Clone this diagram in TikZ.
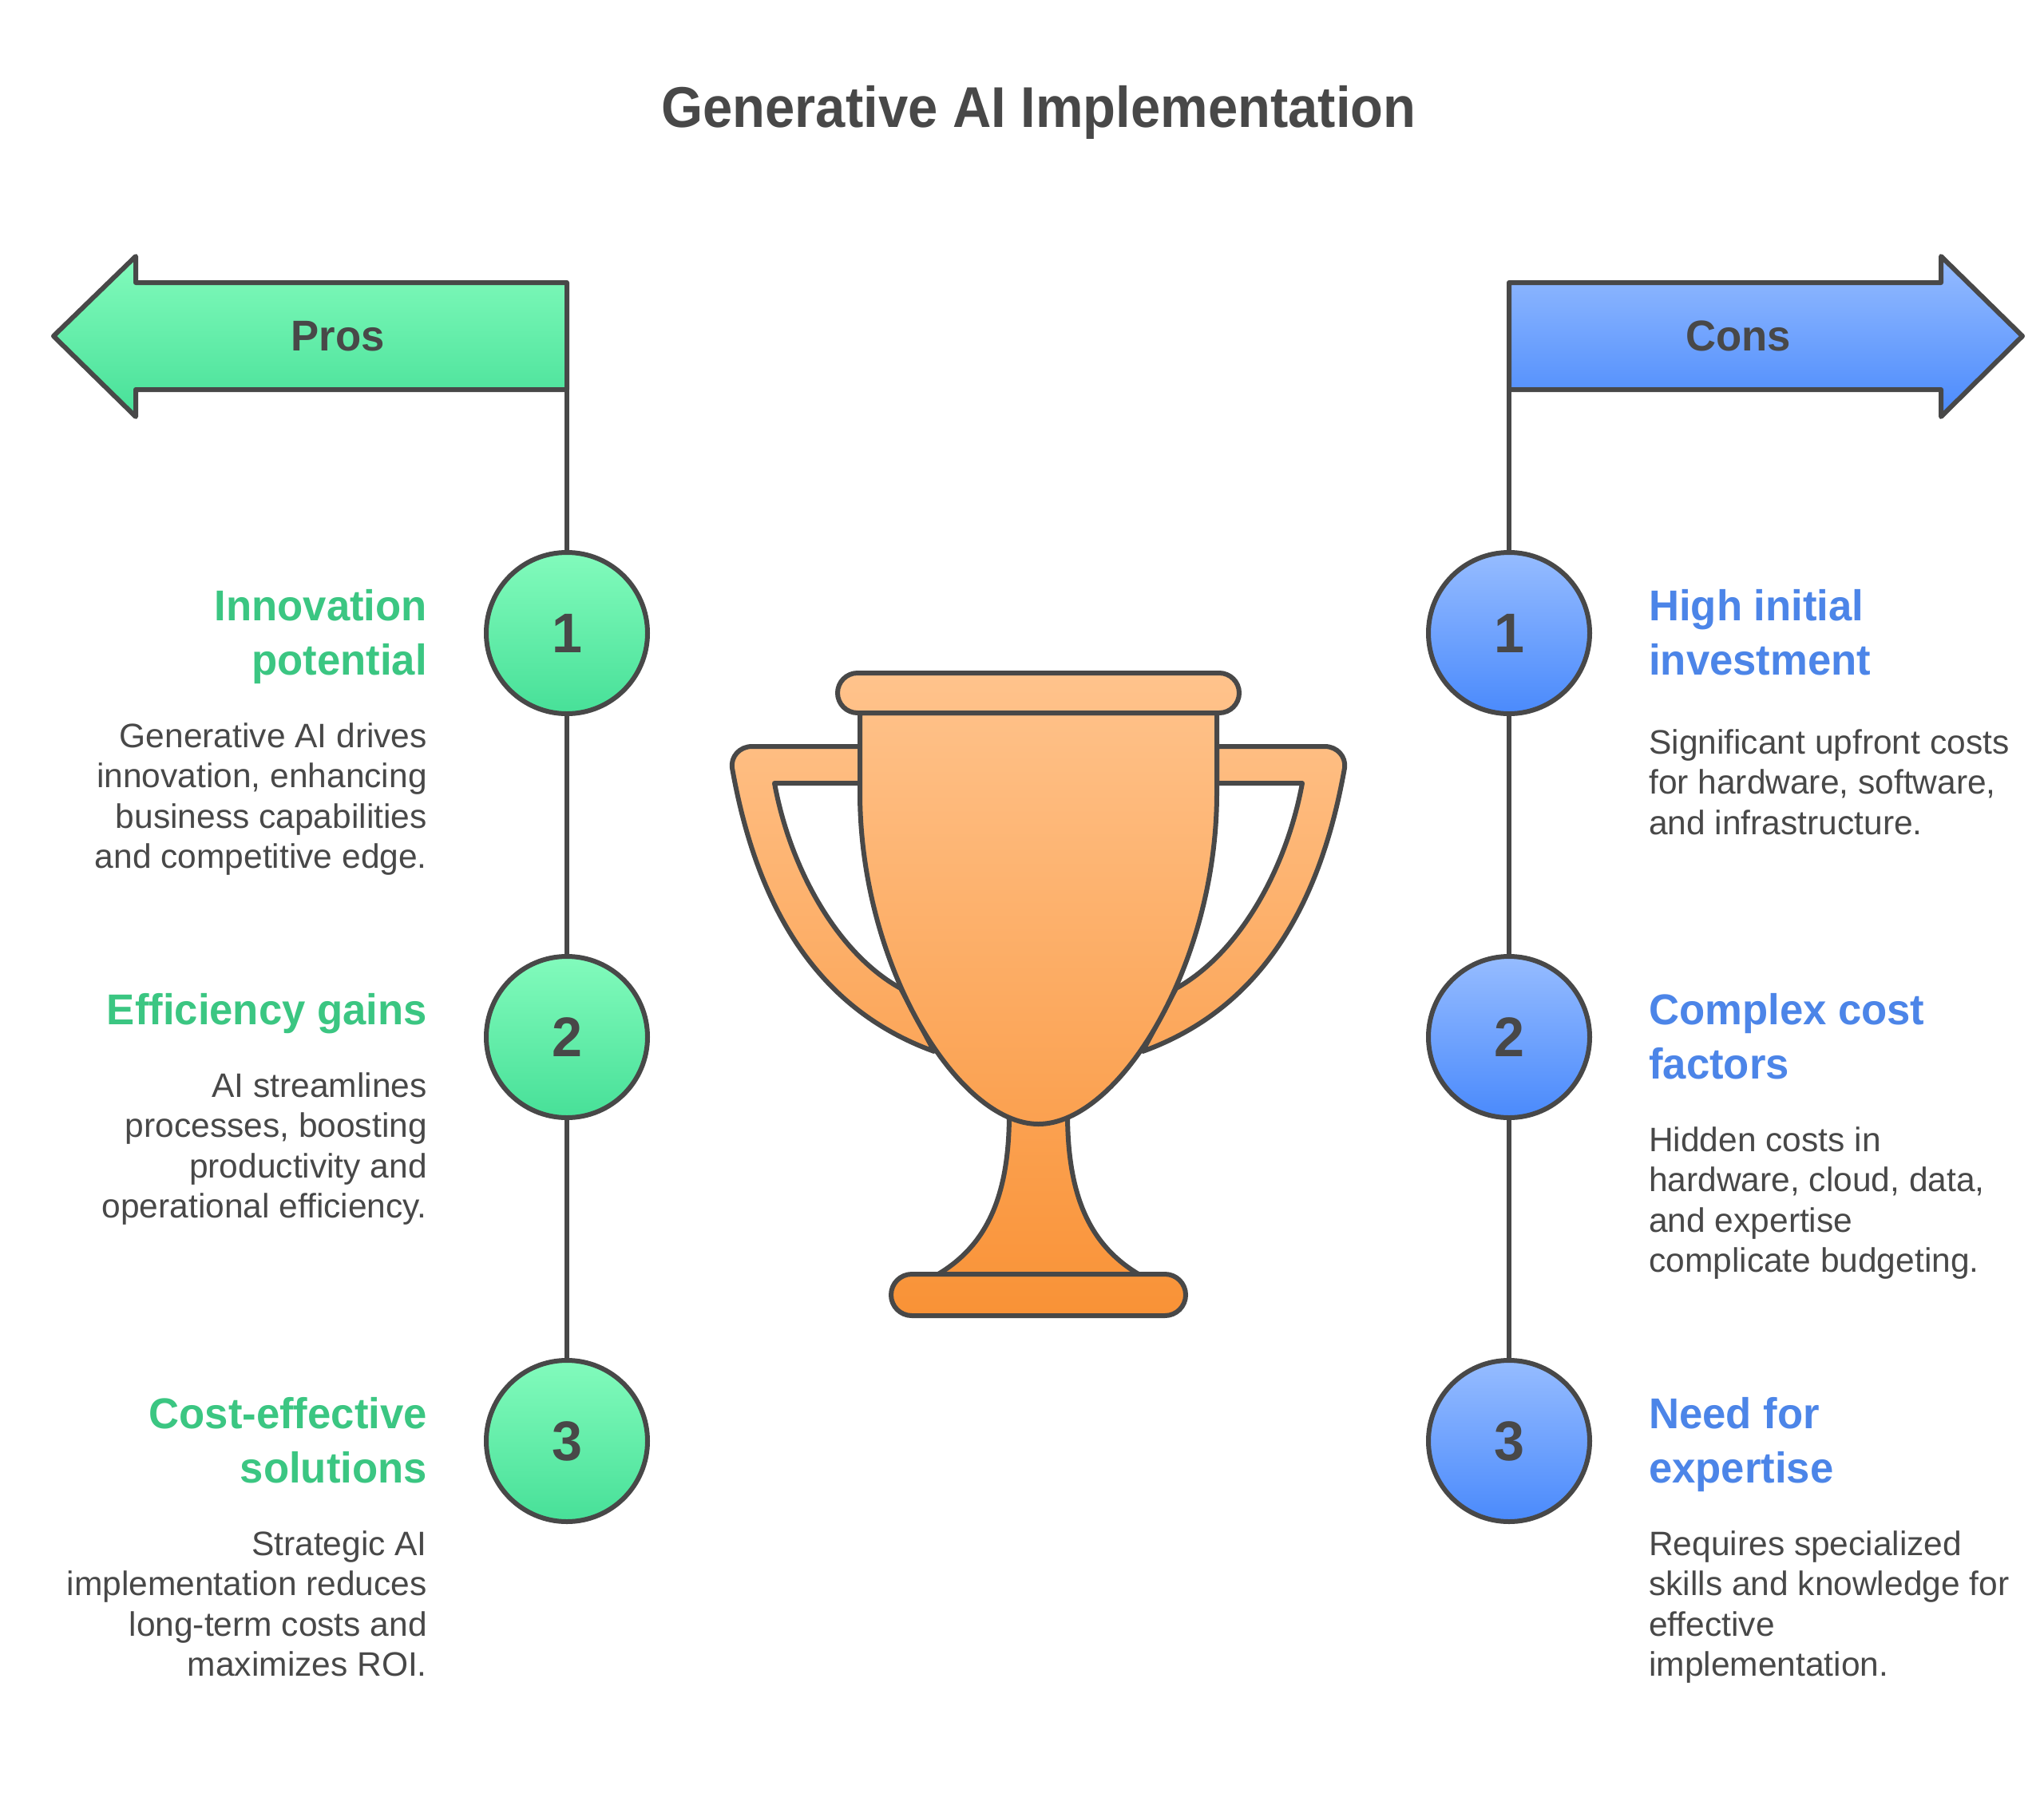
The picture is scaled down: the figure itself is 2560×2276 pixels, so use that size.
\documentclass[tikz,border=0pt]{standalone}
\usepackage{fontspec}
\setmainfont{Liberation Sans}
\newfontfamily\bodyfam[FakeStretch=1.0]{Liberation Sans}
\newfontfamily\headfam[FakeStretch=0.975]{Liberation Sans}
\newfontfamily\titlefam[FakeStretch=0.93]{Liberation Sans}
\definecolor{ink}{HTML}{484848}
\definecolor{grntop}{HTML}{82FBBC}
\definecolor{grnbot}{HTML}{47E098}
\definecolor{blutop}{HTML}{96BCFF}
\definecolor{blubot}{HTML}{4A8AFC}
\definecolor{grntxt}{HTML}{3BC682}
\definecolor{blutxt}{HTML}{4C85E8}
\definecolor{trotop}{HTML}{FFC38C}
\definecolor{trobot}{HTML}{F99236}
\tikzset{
  outline/.style={draw=ink,line width=6pt,line join=round},
  conn/.style={draw=ink,line width=6pt},
  grnshade/.style={top color=grntop,bottom color=grnbot},
  blushade/.style={top color=blutop,bottom color=blubot},
  numdot/.style={circle,outline,minimum size=202pt,inner sep=0pt,outer sep=0pt,text=ink,font=\headfam\bfseries\fontsize{70}{80}\selectfont},
  arrowlabel/.style={text=ink,font=\headfam\bfseries\fontsize{54}{60}\selectfont,inner sep=0pt},
  headtext/.style={inner sep=0pt,font=\headfam\bfseries\fontsize{54}{67.8}\selectfont,execute at begin node=\strut},
  bodytext/.style={inner sep=0pt,text=ink,font=\bodyfam\fontsize{42.5}{50.6}\selectfont,execute at begin node=\strut},
  leftblock/.style={align=right,anchor=north east},
  rightblock/.style={align=left,anchor=north west},
}
\newcommand{\trophypart}[1]{%
  \begin{scope}\clip #1;\shade[top color=trotop,bottom color=trobot] (800,843) rectangle (1800,1648);\end{scope}%
  \draw[outline] #1;}
\begin{document}
\begin{tikzpicture}[x=1pt,y=-1pt]
\useasboundingbox (0,0) rectangle (2560,2276);
\fill[white] (0,0) rectangle (2560,2276);

\node[font=\titlefam\bfseries\fontsize{72}{80}\selectfont,text=ink,inner sep=0pt,anchor=base] (title) at (1301,159) {Generative AI Implementation};

% Pros arrow
\coordinate (prosroot) at (710,488);
\path[outline,grnshade] (710,354) -- (170,354) -- (170,321) -- (67,421) -- (170,522) -- (170,488) -- (prosroot) -- cycle;
\node[arrowlabel] (proslabel) at (423,421) {Pros};
% Cons arrow
\coordinate (consroot) at (1890,488);
\path[outline,blushade] (1890,354) -- (2431,354) -- (2431,321) -- (2533,421) -- (2431,522) -- (2431,488) -- (consroot) -- cycle;
\node[arrowlabel] (conslabel) at (2177,421) {Cons};

% Numbered circles
\node[numdot,grnshade] (p1) at (710,793) {1};
\node[numdot,grnshade] (p2) at (710,1299) {2};
\node[numdot,grnshade] (p3) at (710,1805) {3};
\node[numdot,blushade] (c1) at (1890,793) {1};
\node[numdot,blushade] (c2) at (1890,1299) {2};
\node[numdot,blushade] (c3) at (1890,1805) {3};

% Connectors
\draw[conn] (prosroot) -- (p1);
\draw[conn] (p1) -- (p2);
\draw[conn] (p2) -- (p3);
\draw[conn] (consroot) -- (c1);
\draw[conn] (c1) -- (c2);
\draw[conn] (c2) -- (c3);

% Pros text
\node[headtext,leftblock,text=grntxt] (ph1) at (535,738.5) {Innovation\\potential};
\node[bodytext,leftblock] (pb1) at (535,905) {Generative AI drives\\innovation, enhancing\\business capabilities\\and competitive edge.};
\node[headtext,leftblock,text=grntxt] (ph2) at (535,1236) {Efficiency gains};
\node[bodytext,leftblock] (pb2) at (535,1343) {AI streamlines\\processes, boosting\\productivity and\\operational efficiency.};
\node[headtext,leftblock,text=grntxt] (ph3) at (535,1750.5) {Cost-effective\\solutions};
\node[bodytext,leftblock] (pb3) at (535,1917) {Strategic AI\\implementation reduces\\long-term costs and\\maximizes ROI.};

% Cons text
\node[headtext,rightblock,text=blutxt] (ch1) at (2065,738.5) {High initial\\investment};
\node[bodytext,rightblock] (cb1) at (2065,913) {Significant upfront costs\\for hardware, software,\\and infrastructure.};
\node[headtext,rightblock,text=blutxt] (ch2) at (2065,1244.5) {Complex cost\\factors};
\node[bodytext,rightblock] (cb2) at (2065,1411) {Hidden costs in\\hardware, cloud, data,\\and expertise\\complicate budgeting.};
\node[headtext,rightblock,text=blutxt] (ch3) at (2065,1750.5) {Need for\\expertise};
\node[bodytext,rightblock] (cb3) at (2065,1917) {Requires specialized\\skills and knowledge for\\effective\\implementation.};

% Trophy
\trophypart{(1077,935) -- (942,935) .. controls (926,935) and (915,948) .. (917,962) .. controls (952,1160) and (1040,1270) .. (1170,1317) -- (1128,1238) .. controls (1050,1195) and (990,1090) .. (970,981) -- (1077,981) -- cycle}
\trophypart{(1524,935) -- (1659,935) .. controls (1675,935) and (1686,948) .. (1684,962) .. controls (1649,1160) and (1561,1270) .. (1431,1317) -- (1473,1238) .. controls (1551,1195) and (1611,1090) .. (1631,981) -- (1524,981) -- cycle}
\trophypart{(1264,1395) .. controls (1264,1500) and (1235,1560) .. (1175,1596) -- (1426,1596) .. controls (1366,1560) and (1337,1500) .. (1337,1395) -- cycle}
\trophypart{(1077,893) -- (1077,993) .. controls (1077,1210) and (1200,1408) .. (1300.5,1408) .. controls (1401,1408) and (1524,1210) .. (1524,993) -- (1524,893) -- cycle}
\trophypart{(1049,843) [rounded corners=25pt] rectangle (1552,893)}
\trophypart{(1116,1596) [rounded corners=26pt] rectangle (1485,1648)}
\end{tikzpicture}
\end{document}
